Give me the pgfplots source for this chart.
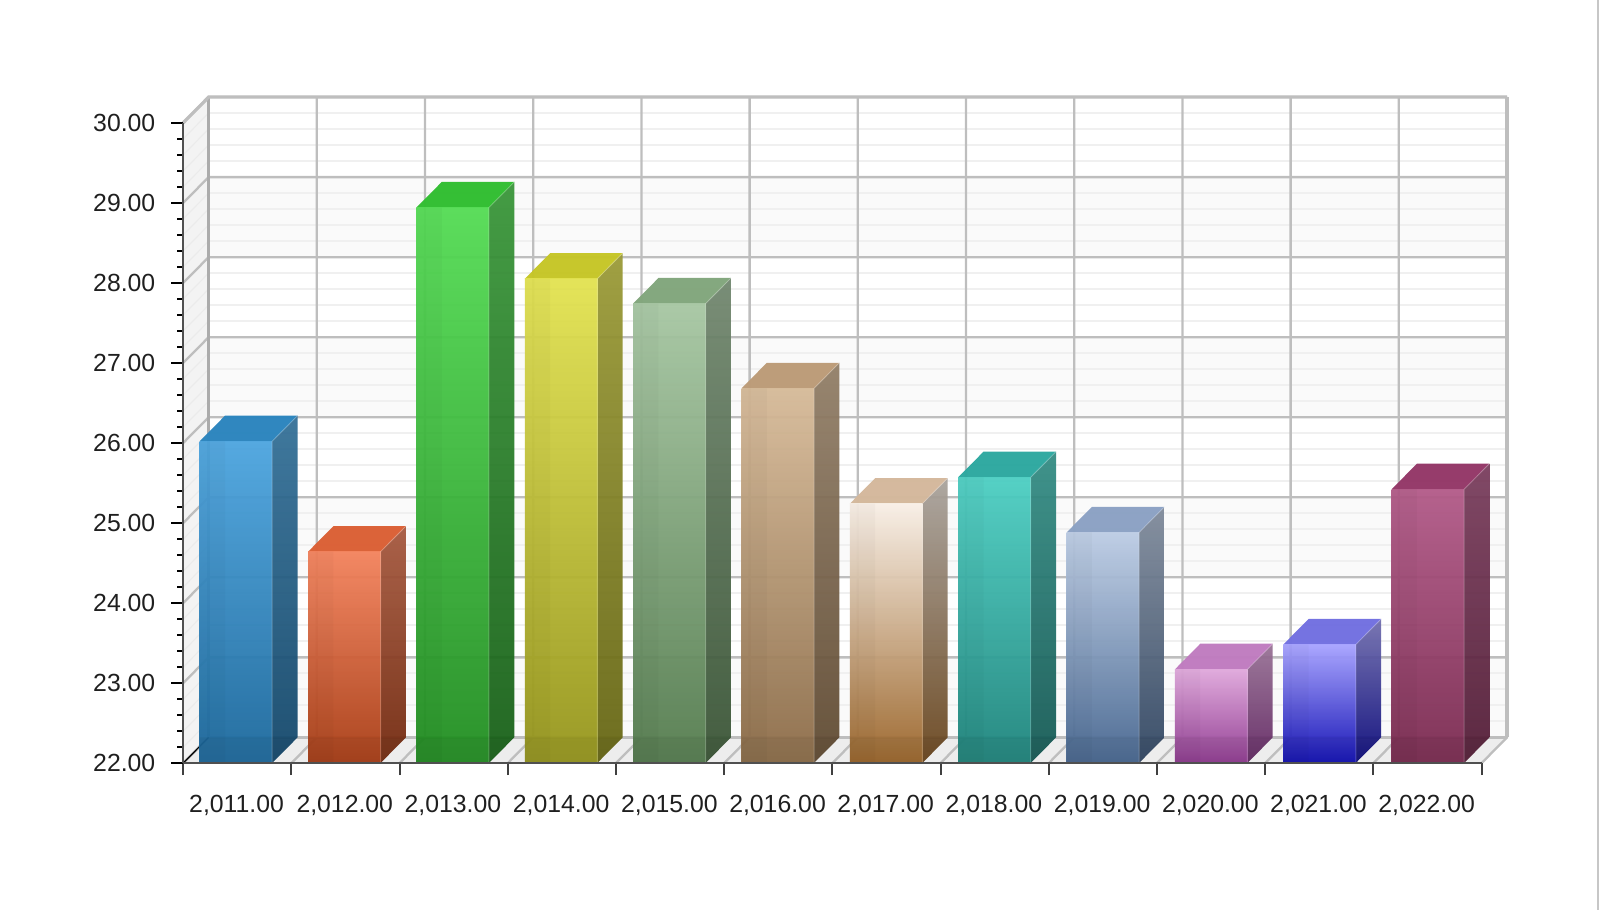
\documentclass[border=0pt]{standalone}
\usepackage{fontspec}
\setmainfont{Liberation Sans}
\usepackage{pgfplots}
\usepackage{pgfplotstable}
\pgfplotsset{compat=1.18}

% front face top / bottom, top face
\definecolor{t0}{HTML}{4CA4DE}\definecolor{b0}{HTML}{1B689C}\definecolor{c0}{HTML}{2C85BE}
\definecolor{t1}{HTML}{F3825C}\definecolor{b1}{HTML}{A83C14}\definecolor{c1}{HTML}{DB6036}
\definecolor{t2}{HTML}{54DC54}\definecolor{b2}{HTML}{228E22}\definecolor{c2}{HTML}{32BE32}
\definecolor{t3}{HTML}{E2E250}\definecolor{b3}{HTML}{96961C}\definecolor{c3}{HTML}{C6C628}
\definecolor{t4}{HTML}{A6C6A2}\definecolor{b4}{HTML}{547C4E}\definecolor{c4}{HTML}{82A67C}
\definecolor{t5}{HTML}{D6BA98}\definecolor{b5}{HTML}{8C6C48}\definecolor{c5}{HTML}{BC9C78}
\definecolor{t6}{HTML}{F8EFE6}\definecolor{b6}{HTML}{9A6428}\definecolor{c6}{HTML}{D4B89C}
\definecolor{t7}{HTML}{4CCEC2}\definecolor{b7}{HTML}{1E847C}\definecolor{c7}{HTML}{2EA8A0}
\definecolor{t8}{HTML}{BCCCE4}\definecolor{b8}{HTML}{466690}\definecolor{c8}{HTML}{8CA2C4}
\definecolor{t9}{HTML}{E0A8DC}\definecolor{b9}{HTML}{8F3890}\definecolor{c9}{HTML}{C07CC0}
\definecolor{t10}{HTML}{A6A2FF}\definecolor{b10}{HTML}{0E0CB4}\definecolor{c10}{HTML}{7270E0}
\definecolor{t11}{HTML}{B25A88}\definecolor{b11}{HTML}{7A2A50}\definecolor{c11}{HTML}{943868}
\definecolor{gridc}{HTML}{BEBEBE}
\definecolor{minorc}{HTML}{F0F0F0}
\definecolor{bandc}{HTML}{FAFAFA}
\definecolor{wallc}{HTML}{F3F3F3}
\definecolor{floorc}{HTML}{EDEDED}
\definecolor{axisc}{HTML}{505050}

\pgfplotstableread{
year value
2011 26.02
2012 24.64
2013 28.94
2014 28.05
2015 27.74
2016 26.68
2017 25.24
2018 25.57
2019 24.88
2020 23.17
2021 23.48
2022 25.42
}\bars

\pgfplotsset{face/.style={draw=none,forget plot}}

% #1 year, #2 value, #3 colour index
\newcommand{\cube}[3]{%
  \pgfmathsetmacro{\xa}{#1+0.152+(#1-2011)*0.0014}%
  \pgfmathsetmacro{\xb}{\xa+0.670}%
  \pgfmathsetmacro{\xc}{\xa+0.234}%
  \pgfmathsetmacro{\xd}{\xb+0.234}%
  \pgfmathsetmacro{\vt}{#2+0.32}%
  \addplot[face,shade,top color=t#3!68!black,bottom color=b#3!68!black,fill opacity=0.94]
    coordinates {(\xb,22)(\xd,22.32)(\xd,\vt)(\xb,#2)(\xb,22)};
  \addplot[face,fill=c#3,fill opacity=0.98]
    coordinates {(\xa,#2)(\xb,#2)(\xd,\vt)(\xc,\vt)(\xa,#2)};
  \addplot[face,shade,top color=t#3,bottom color=b#3,fill opacity=0.95]
    coordinates {(\xa,22)(\xb,22)(\xb,#2)(\xa,#2)(\xa,22)};
  \addplot[face,fill=black,fill opacity=0.022]
    coordinates {(\xa,22)(\xc,22)(\xc,#2)(\xa,#2)(\xa,22)};
  \addplot[face,fill=black,fill opacity=0.05]
    coordinates {(\xa,22)(\xb,22)(\xd,22.32)(\xa,22.32)(\xa,22)};
  \addplot[forget plot,draw=white,draw opacity=0.22,line width=0.5pt]
    coordinates {(\xb,22)(\xb,#2)(\xd,\vt)};
}

\begin{document}
\begin{tikzpicture}[x=1pt,y=1pt]
\path[use as bounding box] (-91.65,-73.5) rectangle (708.35,381.5);
\begin{axis}[
    at={(0,0)},anchor=south west,
    scale only axis,
    width=649.2pt,
    height=320.15pt,
    clip=false,
    axis on top,
    xmin=2011,xmax=2023,
    ymin=22,ymax=30,
    axis x line*=bottom,
    axis y line*=left,
    axis line style={draw=axisc,line width=1pt,-},
    xtick={2011,...,2023},
    x tick label as interval,
    xticklabels={{2,011.00},{2,012.00},{2,013.00},{2,014.00},{2,015.00},{2,016.00},{2,017.00},{2,018.00},{2,019.00},{2,020.00},{2,021.00},{2,022.00}},
    ytick={22,...,30},
    minor y tick num=4,
    tick align=outside,
    major tick length=6pt,
    minor tick length=3pt,
    x tick style={draw=black!75,line width=1pt},
    y tick style={draw=black,line width=0.9pt},
    minor y tick style={draw=black,line width=0.9pt},
    tick label style={font=\fontsize{12.4}{14}\selectfont,text=black!88},
    /pgf/number format/fixed,
    /pgf/number format/fixed zerofill,
    /pgf/number format/precision=2,
    /pgf/number format/assume math mode=true,
    xticklabel style={xshift=-0.4pt,yshift=-6.4pt},
    yticklabel style={xshift=-4.5pt},
]
% left wall and floor
\addplot[face,fill=wallc] coordinates {(2011,22)(2011.234,22.32)(2011.234,30.32)(2011,30)(2011,22)};
\addplot[face,fill=floorc] coordinates {(2011,22)(2023,22)(2023.234,22.32)(2011.234,22.32)(2011,22)};
% back wall bands
\pgfplotsinvokeforeach{22,24,26,28}{
  \pgfmathsetmacro{\la}{#1+0.32}
  \pgfmathsetmacro{\lb}{#1+1.32}
  \addplot[face,fill=bandc] coordinates {(2011.234,\la)(2023.234,\la)(2023.234,\lb)(2011.234,\lb)(2011.234,\la)};
}
% minor lines
\pgfplotsinvokeforeach{22.2,22.4,22.6,22.8,23.2,23.4,23.6,23.8,24.2,24.4,24.6,24.8,25.2,25.4,25.6,25.8,26.2,26.4,26.6,26.8,27.2,27.4,27.6,27.8,28.2,28.4,28.6,28.8,29.2,29.4,29.6,29.8}{
  \pgfmathsetmacro{\la}{#1+0.32}
  \addplot[forget plot,draw=minorc,line width=1pt] coordinates {(2011.234,\la)(2023.234,\la)};
  \addplot[forget plot,draw=black!8,line width=0.6pt] coordinates {(2011,#1)(2011.234,\la)};
}
% major horizontals and wall diagonals
\pgfplotsinvokeforeach{22,...,30}{
  \pgfmathsetmacro{\la}{#1+0.32}
  \addplot[forget plot,draw=gridc,line width=1.15pt] coordinates {(2011,#1)(2011.234,\la)(2023.234,\la)};
}
% verticals and floor diagonals
\pgfplotsinvokeforeach{2011,...,2023}{
  \pgfmathsetmacro{\la}{#1+0.234}
  \addplot[forget plot,draw=gridc,line width=1.15pt] coordinates {(#1,22)(\la,22.32)(\la,30.32)};
}
\addplot[forget plot,draw=gridc!90!black,line width=1.6pt] coordinates {(2011.234,22.32)(2011.234,30.32)};
\addplot[forget plot,draw=gridc,line width=1.8pt] coordinates {(2023.234,22.32)(2023.234,30.32)};
\addplot[forget plot,draw=gridc,line width=1.6pt] coordinates {(2011.234,22.32)(2023.234,22.32)};
\addplot[forget plot,draw=gridc,line width=1.6pt] coordinates {(2011,30)(2011.234,30.32)(2023.234,30.32)};
\addplot[forget plot,draw=black,line width=0.6pt] coordinates {(2011,22)(2011.234,22.32)};
% bars
\pgfplotsinvokeforeach{0,...,11}{
  \pgfplotstablegetelem{#1}{year}\of\bars \let\yr\pgfplotsretval
  \pgfplotstablegetelem{#1}{value}\of\bars \let\val\pgfplotsretval
  \edef\doit{\noexpand\cube{\yr}{\val}{#1}}\doit
}
\end{axis}
\fill[black!22] (707,-73.5) rectangle (708,381.5);
\end{tikzpicture}
\end{document}
